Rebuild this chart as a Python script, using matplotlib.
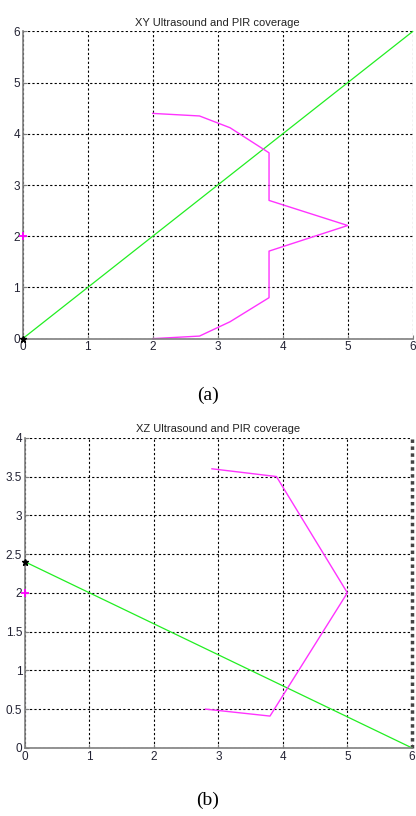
import matplotlib
matplotlib.use("Agg")
import matplotlib.pyplot as plt

# ---- data ----
xy_pir_x = [2.0, 2.72, 3.19, 3.79, 3.79, 5.0, 3.79, 3.79, 3.19, 2.72, 2.0]
xy_pir_y = [4.40, 4.35, 4.12, 3.63, 2.70, 2.21, 1.71, 0.80, 0.33, 0.05, 0.0]
xy_us_x = [0, 6]
xy_us_y = [0, 6]
xy_pir_marker = (0, 2)
xy_us_marker = (0, 0)

xz_pir_x = [2.9, 3.9, 5.0, 3.8, 2.8]
xz_pir_y = [3.6, 3.5, 2.0, 0.41, 0.5]
xz_us_x = [0, 6]
xz_us_y = [2.4, 0]
xz_pir_marker = (0, 2)
xz_us_marker = (0, 2.4)

xy_xticks = [0, 1, 2, 3, 4, 5, 6]
xy_yticks = [0, 1, 2, 3, 4, 5, 6]
xz_xticks = [0, 1, 2, 3, 4, 5, 6]
xz_yticks = [0, 0.5, 1, 1.5, 2, 2.5, 3, 3.5, 4]
xz_yticklabels = ["0", "0.5", "1", "1.5", "2", "2.5", "3", "3.5", "4"]

plt.rcParams['font.family'] = ['Liberation Sans', 'DejaVu Sans']

fig = plt.figure(figsize=(4.16, 8.16), dpi=100)
ax1 = fig.add_axes([0.0546, 0.585, 0.9374, 0.3764])
ax2 = fig.add_axes([0.060, 0.0835, 0.930, 0.380])

MAG = '#ff33ff'
GRN = '#22ee22'

def style(ax, xticks, yticks, xlim, ylim, title, ylabels=None):
    ax.set_xlim(*xlim)
    ax.set_ylim(*ylim)
    ax.set_xticks(xticks)
    ax.set_yticks(yticks)
    if ylabels is not None:
        ax.set_yticklabels(ylabels)
    ax.grid(True, color='black', linestyle=(0, (2, 2)), linewidth=0.8)
    for s in ['top', 'right']:
        ax.spines[s].set_visible(False)
    for s in ['left', 'bottom']:
        ax.spines[s].set_color('#7f7f7f')
        ax.spines[s].set_linewidth(1.2)
    ax.tick_params(direction='in', length=3, width=0.8, colors='#7f7f7f',
                   labelcolor='#222233', labelsize=8.5, pad=2)
    ax.set_title(title, fontsize=8, color='#222222', pad=4)
    ax.set_axisbelow(True)

style(ax1, xy_xticks, xy_yticks, (0, 6), (0, 6), 'XY Ultrasound and PIR coverage')
ax1.plot(xy_us_x, xy_us_y, color=GRN, lw=0.9, clip_on=False)
ax1.plot(xy_pir_x, xy_pir_y, color=MAG, lw=1.0, clip_on=False)
ax1.plot(*xy_pir_marker, marker='+', color='#ff00ff', ms=6, mew=1.3,
         clip_on=False, zorder=10)
ax1.plot(*xy_us_marker, marker='*', color='black', ms=5, clip_on=False, zorder=10)

style(ax2, xz_xticks, xz_yticks, (0, 6), (0, 4), 'XZ Ultrasound and PIR coverage', xz_yticklabels)
ax2.axvline(6, color='#444444', linestyle=(0, (1, 1)), linewidth=2.5, clip_on=False)
ax2.plot(xz_us_x, xz_us_y, color=GRN, lw=0.9, clip_on=False)
ax2.plot(xz_pir_x, xz_pir_y, color=MAG, lw=1.0, clip_on=False)
ax2.plot(*xz_pir_marker, marker='+', color='#ff00ff', ms=6, mew=1.3,
         clip_on=False, zorder=10)
ax2.plot(*xz_us_marker, marker='*', color='black', ms=5, clip_on=False, zorder=10)

fig.text(0.5, 1 - 395 / 816, '(a)', ha='center', va='center',
         fontsize=14, family=['Liberation Serif', 'DejaVu Serif'])
fig.text(0.5, 1 - 800 / 816, '(b)', ha='center', va='center',
         fontsize=14, family=['Liberation Serif', 'DejaVu Serif'])

fig.savefig('out.png', dpi=100, facecolor='white')
